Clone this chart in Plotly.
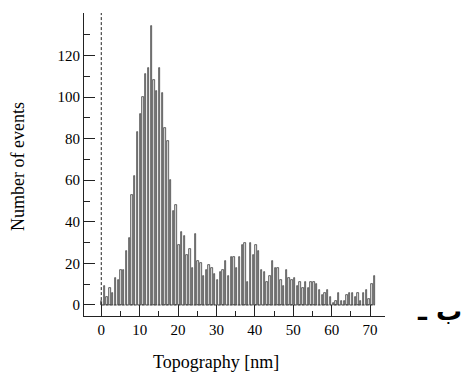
import plotly.graph_objects as go

# Histogram of topography (bin index -> count)
bin_start = 0.1      # nm, centre of first bin
bin_width = 0.718    # nm
counts = [
    2, 9, 4, 8, 6, 13, 12, 17, 17, 26,
    32, 53, 62, 83, 92, 100, 111, 114, 134, 108,
    103, 114, 102, 85, 79, 60, 45, 48, 29, 35,
    33, 24, 27, 18, 34, 21, 20, 14, 17, 19,
    18, 15, 12, 16, 17, 21, 14, 23, 23, 18,
    23, 29, 30, 11, 30, 24, 29, 26, 17, 16,
    11, 14, 21, 18, 18, 12, 9, 17, 13, 12,
    13, 9, 11, 8, 11, 8, 11, 11, 10, 7,
    5, 6, 7, 4, 1, 2, 6, 2, 2, 5,
    6, 6, 4, 6, 2, 6, 7, 3, 10, 14,
]
x_centres = [round(bin_start + i * bin_width, 3) for i in range(len(counts))]

x_ticks = [0, 10, 20, 30, 40, 50, 60, 70]
y_ticks = [0, 20, 40, 60, 80, 100, 120]

serif = "Liberation Serif, Times New Roman, serif"

fig = go.Figure()
fig.add_trace(go.Bar(
    x=x_centres, y=counts, width=0.36,
    marker=dict(color="#e2e2e2", line=dict(color="#2a2a2a", width=0.7)),
    showlegend=False,
))

# baseline at zero under the bars
fig.add_shape(type="line", xref="x", yref="y",
              x0=x_centres[0], x1=x_centres[-1], y0=0, y1=0,
              line=dict(color="#333333", width=1, dash="3px,1px"))
# dashed vertical line at x = 0
fig.add_shape(type="line", xref="x", yref="paper",
              x0=0, x1=0, y0=0.036, y1=1,
              line=dict(color="#222222", width=1, dash="3px,2px"))

fig.update_layout(
    width=465, height=372,
    margin=dict(l=84, r=80, t=13, b=56),
    paper_bgcolor="white", plot_bgcolor="white",
    bargap=0,
    font=dict(family=serif, size=15, color="black"),
    xaxis=dict(
        range=[-4.5, 73.9], tickvals=x_ticks, ticktext=[str(v) for v in x_ticks],
        ticks="inside", ticklen=11, tickwidth=1, tickcolor="#222",
        minor=dict(dtick=5, tick0=0, ticks="inside", ticklen=5, tickcolor="#222"),
        showline=True, linecolor="#222", linewidth=1, showgrid=False, zeroline=False,
        tickfont=dict(family=serif, size=15),
    ),
    yaxis=dict(
        range=[-5.3, 140.4], tickvals=y_ticks, ticktext=[str(v) for v in y_ticks],
        ticks="inside", ticklen=11, tickwidth=1, tickcolor="#222",
        minor=dict(dtick=10, tick0=0, ticks="inside", ticklen=6, tickcolor="#222"),
        showline=True, linecolor="#222", linewidth=1, showgrid=False, zeroline=False,
        tickfont=dict(family=serif, size=15),
    ),
    annotations=[
        dict(text="Number of events", xref="paper", yref="paper",
             x=-0.219, y=0.492, textangle=-90, showarrow=False,
             xanchor="center", yanchor="middle",
             font=dict(family=serif, size=18, color="black")),
        dict(text="Topography [nm]", xref="paper", yref="paper",
             x=0.4385, y=-0.152, showarrow=False,
             xanchor="center", yanchor="middle",
             font=dict(family=serif, size=18, color="black")),
        dict(text="<b>ب ـ</b>", xref="paper", yref="paper",
             x=1.18, y=0.017, showarrow=False,
             xanchor="center", yanchor="middle",
             font=dict(family="DejaVu Sans", size=26, color="black")),
    ],
)

fig.write_html("out.html",
               config={"displayModeBar": False},
               post_script="document.body.style.margin='0';document.body.style.padding='0';")
